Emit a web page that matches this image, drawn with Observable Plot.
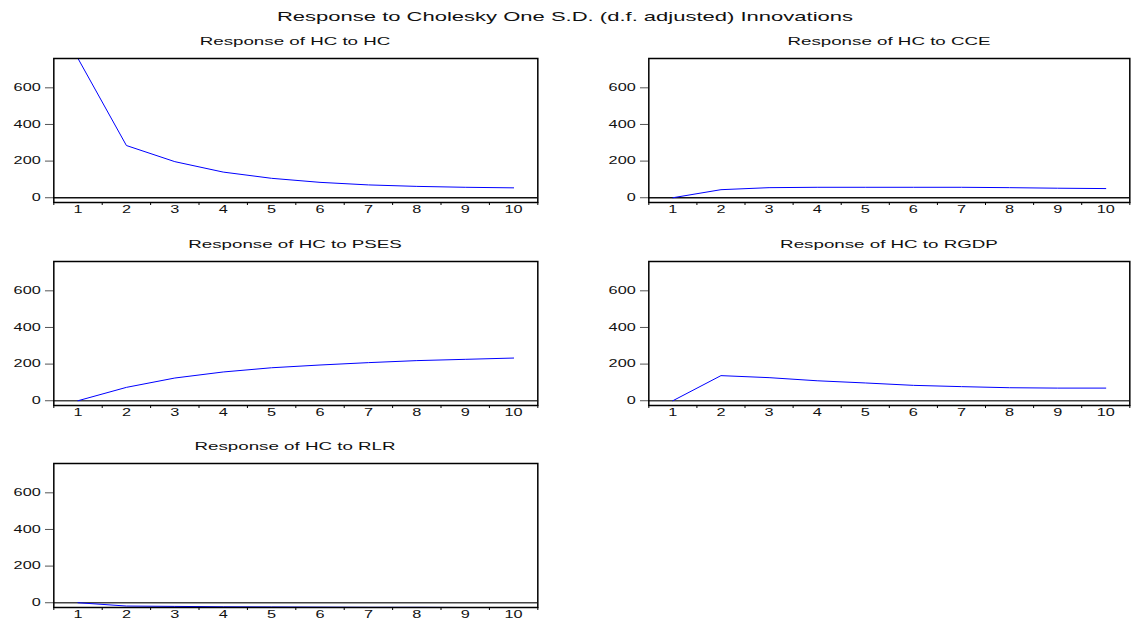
<!DOCTYPE html>
<html>
<head>
<meta charset="utf-8">
<script src="https://cdn.jsdelivr.net/npm/d3@7"></script>
<script src="https://cdn.jsdelivr.net/npm/@observablehq/plot@0.6"></script>
<style>
  body { margin: 0; background: #fff; }
  #chart { position: relative; width: 1131px; height: 621px; background: #fff; overflow: hidden;
           font-family: "Liberation Sans", Arial, sans-serif; color: #000; }
  .ttl { position: absolute; white-space: nowrap; line-height: 1; color: #111; }
  #chart svg path, #chart svg line, #chart svg rect { vector-effect: non-scaling-stroke; }
</style>
</head>
<body>
<div id="chart"></div>
<script>
// ---- data ----
const periods = [1, 2, 3, 4, 5, 6, 7, 8, 9, 10];
const hcToHC   = [760, 285, 197, 140, 106, 84, 70, 62, 57, 54];
const hcToCCE  = [0, 44, 55, 57, 57, 57, 57, 55, 52, 50];
const hcToPSES = [0, 73, 124, 157, 180, 195, 208, 219, 226, 233];
const hcToRGDP = [0, 137, 126, 109, 97, 84, 77, 71, 69, 69];
const hcToRLR  = [0, -18, -20, -22, -23, -24, -25, -25, -26, -26];
const panelTitles = ["Response of HC to HC", "Response of HC to CCE", "Response of HC to PSES",
                     "Response of HC to RGDP", "Response of HC to RLR"];
const yTicks = [0, 200, 400, 600];
const xBoundaries = [0.5, 1.5, 2.5, 3.5, 4.5, 5.5, 6.5, 7.5, 8.5, 9.5, 10.5];
const mainTitle = "Response to Cholesky One S.D. (d.f. adjusted) Innovations";

const series = [hcToHC, hcToCCE, hcToPSES, hcToRGDP, hcToRLR];
const yDomain = d3.extent(series.flat());

// ---- layout (real pixels) ----
const S = 1.63;               // horizontal stretch of the original rendering
const colX = [53, 648];
const colW = [484, 481];
const rowTop = [58, 261, 463];
const frameH = 144;
const mL = 53, mR = 3, mT = 2, mB = 20;

const chart = document.getElementById("chart");

function addTitle(text, cx, cy, size) {
  const d = document.createElement("div");
  d.className = "ttl";
  d.textContent = text;
  d.style.left = cx + "px";
  d.style.top = cy + "px";
  d.style.fontSize = size + "px";
  d.style.transform = `translate(-50%, -50%) scaleX(${S})`;
  chart.appendChild(d);
}

addTitle(mainTitle, 565, 17, 13.5);

series.forEach((vals, i) => {
  const col = i % 2, row = Math.floor(i / 2);
  const fx = colX[col], fw = colW[col], ft = rowTop[row];
  const realW = mL + fw + mR;
  const H = mT + frameH + mB;
  const data = periods.map((p, k) => ({period: p, value: vals[k]}));

  const svg = Plot.plot({
    width: realW / S,
    height: H,
    marginLeft: mL / S,
    marginRight: mR / S,
    marginTop: mT,
    marginBottom: mB,
    x: {domain: [0.5, 10.5]},
    y: {domain: yDomain},
    style: {fontFamily: '"Liberation Sans", Arial, sans-serif', fontSize: "10px", color: "#111", background: "transparent", overflow: "visible"},
    marks: [
      Plot.ruleY([0], {stroke: row === 0 ? "#111" : "#444", strokeWidth: 1.3}),
      Plot.line(data, {x: "period", y: "value", stroke: "#0000ff", strokeWidth: 1}),
      Plot.frame({stroke: "#000", strokeWidth: 1.5}),
      Plot.axisY(yTicks, {tickSize: 8 / S, tickPadding: 5 / S, label: null, fontSize: 10, stroke: "#555"}),
      Plot.axisX(xBoundaries, {tickSize: 3, tickFormat: () => "", label: null, stroke: "#000"}),
      Plot.axisX(periods, {tickSize: 0, tickPadding: 3, label: null, fontSize: 10})
    ]
  });
  svg.setAttribute("preserveAspectRatio", "none");
  svg.setAttribute("width", realW);
  svg.style.position = "absolute";
  svg.style.left = (fx - mL) + "px";
  svg.style.top = (ft - mT) + "px";
  svg.style.width = realW + "px";
  svg.style.height = H + "px";
  svg.style.maxWidth = "none";
  chart.appendChild(svg);

  addTitle(panelTitles[i], fx + fw / 2, ft - 16, 11.5);
});
</script>
</body>
</html>
